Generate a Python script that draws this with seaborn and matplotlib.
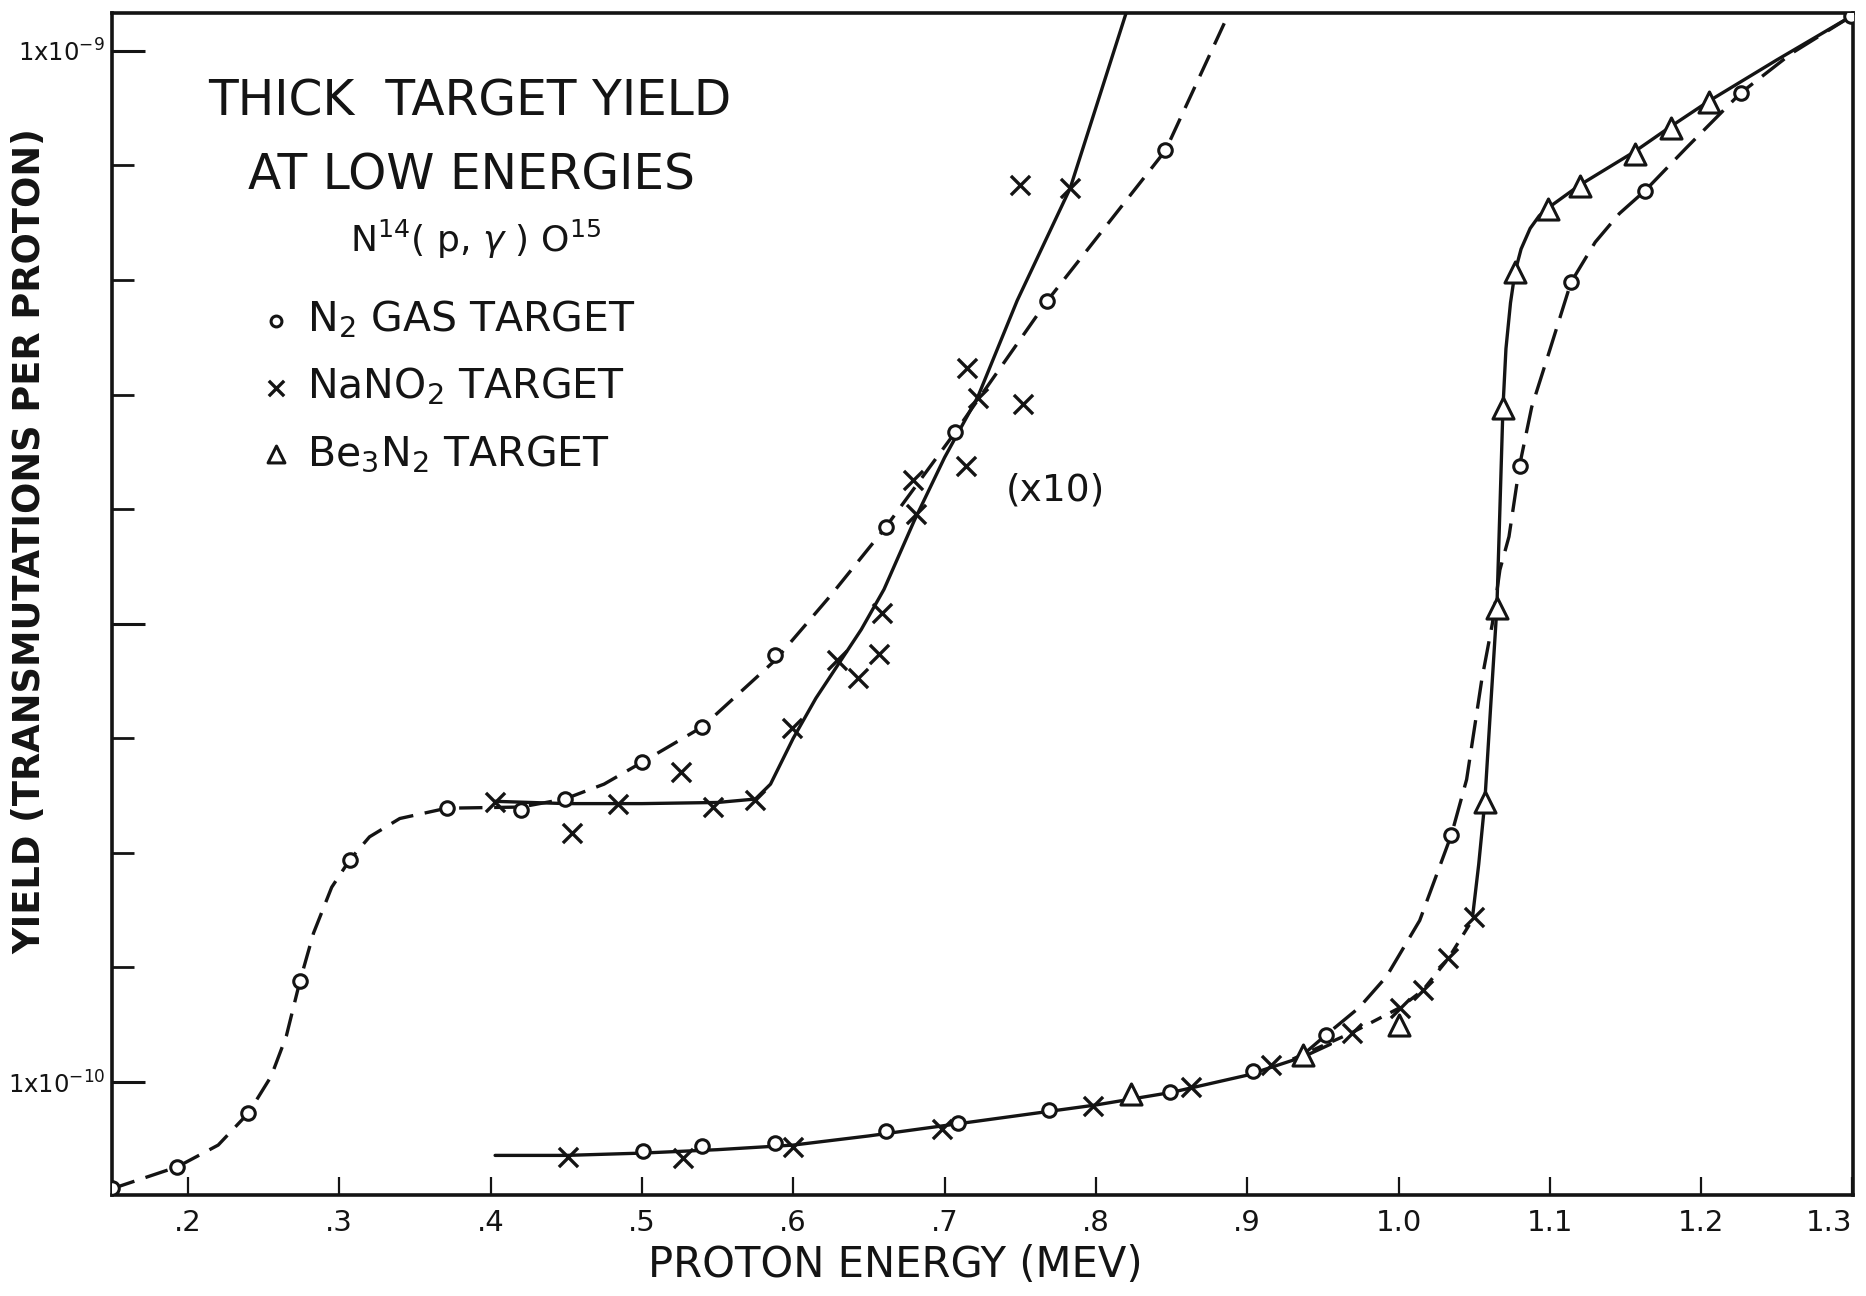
import matplotlib
matplotlib.use("Agg")
import matplotlib.pyplot as plt
from matplotlib.ticker import FixedLocator, FixedFormatter
import seaborn as sns

# ---------------- data (yield in units of 1e-10 transmutations / proton) -------------
# N2 gas target, low-energy branch (plotted x10)
n2_low_x = [0.150, 0.193, 0.240, 0.274, 0.307, 0.371, 0.420, 0.449, 0.500, 0.540,
            0.588, 0.661, 0.707, 0.768, 0.846]
n2_low_y = [0.075, 0.26, 0.73, 1.885, 2.94, 3.39, 3.37, 3.47, 3.79, 4.10,
            4.73, 5.84, 6.67, 7.82, 9.13]
# N2 gas target, high-energy branch
n2_high_x = [0.501, 0.540, 0.588, 0.661, 0.709, 0.769, 0.849, 0.904, 0.952, 1.035,
             1.080, 1.114, 1.163, 1.226, 1.299]
n2_high_y = [0.40, 0.44, 0.47, 0.57, 0.64, 0.76, 0.91, 1.10, 1.41, 3.16,
             6.38, 7.98, 8.78, 9.63, 10.30]
# NaNO2 target, low-energy branch (plotted x10)
nano2_low_x = [0.403, 0.454, 0.484, 0.526, 0.547, 0.575, 0.599, 0.629, 0.643, 0.657,
               0.659, 0.679, 0.681, 0.714, 0.715, 0.722, 0.752, 0.750, 0.783]
nano2_low_y = [3.44, 3.17, 3.43, 3.71, 3.40, 3.46, 4.09, 4.68, 4.53, 4.74,
               5.09, 6.25, 5.96, 6.38, 7.23, 6.97, 6.92, 8.83, 8.80]
# NaNO2 target, high-energy branch
nano2_high_x = [0.451, 0.527, 0.600, 0.698, 0.798, 0.863, 0.916, 0.969, 1.001, 1.016,
                1.033, 1.050]
nano2_high_y = [0.35, 0.34, 0.43, 0.59, 0.79, 0.96, 1.15, 1.43, 1.65, 1.80,
                2.08, 2.44]
# Be3N2 target
be3n2_x = [0.823, 0.937, 1.000, 1.057, 1.065, 1.069, 1.077, 1.099, 1.120, 1.156,
           1.180, 1.205]
be3n2_y = [0.90, 1.24, 1.50, 3.44, 5.14, 6.88, 8.07, 8.62, 8.82, 9.10,
           9.33, 9.55]

# hand-drawn curves
curve_n2_low_x = [0.150, 0.193, 0.220, 0.240, 0.255, 0.265, 0.274, 0.283, 0.295, 0.307,
                  0.320, 0.340, 0.371, 0.420, 0.449, 0.475, 0.500, 0.540, 0.588, 0.625,
                  0.661, 0.707, 0.768, 0.846, 0.888]
curve_n2_low_y = [0.07, 0.26, 0.45, 0.73, 1.05, 1.40, 1.88, 2.30, 2.70, 2.94,
                  3.14, 3.30, 3.39, 3.40, 3.47, 3.60, 3.79, 4.10, 4.68, 5.25,
                  5.84, 6.67, 7.82, 9.13, 10.33]
curve_nano2_low_x = [0.403, 0.450, 0.500, 0.550, 0.575, 0.585, 0.600, 0.615, 0.630, 0.645,
                     0.660, 0.680, 0.700, 0.722, 0.748, 0.783, 0.820]
curve_nano2_low_y = [3.45, 3.43, 3.43, 3.44, 3.47, 3.60, 4.00, 4.35, 4.65, 4.95,
                     5.30, 5.90, 6.45, 6.98, 7.82, 8.80, 10.33]
curve_low_common_x = [0.403, 0.450, 0.500, 0.550, 0.600, 0.650, 0.700, 0.750, 0.800, 0.850,
                      0.900, 0.937, 0.955]
curve_low_common_y = [0.36, 0.36, 0.38, 0.41, 0.45, 0.53, 0.62, 0.71, 0.80, 0.91,
                      1.06, 1.22, 1.33]
curve_n2_high_x = [0.937, 0.952, 0.974, 0.992, 1.014, 1.035, 1.045, 1.051, 1.055, 1.062,
                   1.067, 1.073, 1.080, 1.088, 1.100, 1.114, 1.130, 1.146, 1.163, 1.190,
                   1.226, 1.260, 1.299]
curve_n2_high_y = [1.24, 1.41, 1.65, 1.92, 2.41, 3.16, 3.64, 4.16, 4.51, 5.00,
                   5.47, 5.76, 6.38, 6.89, 7.39, 7.98, 8.33, 8.58, 8.78, 9.15,
                   9.63, 9.98, 10.30]
curve_nano2_high_x = [0.930, 0.969, 1.001, 1.016, 1.033, 1.050]
curve_nano2_high_y = [1.20, 1.43, 1.65, 1.80, 2.08, 2.44]
curve_be_x = [1.049, 1.053, 1.057, 1.061, 1.065, 1.067, 1.069, 1.071, 1.074, 1.077,
              1.081, 1.087, 1.093, 1.099, 1.120, 1.156, 1.180, 1.205, 1.250, 1.299]
curve_be_y = [2.45, 2.90, 3.44, 4.30, 5.14, 6.00, 6.88, 7.40, 7.80, 8.07,
              8.27, 8.45, 8.56, 8.63, 8.83, 9.12, 9.34, 9.56, 9.92, 10.30]

x_ticks = [0.2, 0.3, 0.4, 0.5, 0.6, 0.7, 0.8, 0.9, 1.0, 1.1, 1.2, 1.3]
x_tick_labels = [".2", ".3", ".4", ".5", ".6", ".7", ".8", ".9", "1.0", "1.1", "1.2", "1.3"]
y_major = [1, 5, 10]
y_major_labels = [r"1x10$^{-10}$", "", r"1x10$^{-9}$"]
y_minor = [2, 3, 4, 6, 7, 8, 9]

# ---------------- style ----------------
sns.set_theme(style="white")
plt.rcParams['font.family'] = ['DejaVu Sans']
plt.rcParams['mathtext.fontset'] = 'dejavusans'

INK = '#141414'
LW = 2.4

fig = plt.figure(figsize=(18.66, 12.96), dpi=100)
ax = fig.add_axes([0.0600, 0.0779, 0.9330, 0.9121])


def curve(xs, ys, ls):
    sns.lineplot(x=xs, y=ys, ax=ax, color=INK, linewidth=LW, linestyle=ls,
                 estimator=None, sort=False, zorder=2)


curve(curve_n2_low_x, curve_n2_low_y, (0, (7, 3.5)))
curve(curve_nano2_low_x, curve_nano2_low_y, '-')
curve(curve_low_common_x, curve_low_common_y, '-')
curve(curve_n2_high_x, curve_n2_high_y, (0, (8.5, 3.5)))
curve(curve_nano2_high_x, curve_nano2_high_y, (0, (3.5, 3)))
curve(curve_be_x, curve_be_y, '-')

sns.scatterplot(x=n2_low_x + n2_high_x, y=n2_low_y + n2_high_y, ax=ax, marker='o',
                s=95, color='white', edgecolor=INK, linewidth=2.2, zorder=4,
                label="N$_2$ GAS TARGET")
sns.scatterplot(x=nano2_low_x + nano2_high_x, y=nano2_low_y + nano2_high_y, ax=ax,
                marker='x', s=190, color=INK, linewidth=2.4, zorder=4,
                label="NaNO$_2$ TARGET")
sns.scatterplot(x=be3n2_x, y=be3n2_y, ax=ax, marker='^', s=230, color='white',
                edgecolor=INK, linewidth=2.2, zorder=4, label="Be$_3$N$_2$ TARGET")

ax.set_xlim(0.1498, 1.3003)
ax.set_ylim(0.014, 10.33)

ax.xaxis.set_major_locator(FixedLocator(x_ticks))
ax.xaxis.set_major_formatter(FixedFormatter(x_tick_labels))
ax.yaxis.set_major_locator(FixedLocator(y_major))
ax.yaxis.set_major_formatter(FixedFormatter(y_major_labels))
ax.yaxis.set_minor_locator(FixedLocator(y_minor))

ax.tick_params(axis='x', which='major', direction='in', length=13, width=1.6,
               color=INK, labelsize=21, pad=10, labelcolor=INK, bottom=True, top=False)
ax.tick_params(axis='y', which='major', direction='in', length=24, width=2.2,
               color=INK, labelsize=17.5, pad=5, labelcolor=INK, left=True, right=False)
ax.tick_params(axis='y', which='minor', direction='in', length=16, width=2.0,
               color=INK, left=True, right=False)

# last x label sits just inside the right edge, as in the original
fig.canvas.draw()
ax.get_xticklabels()[-1].set_horizontalalignment('right')

for sp in ax.spines.values():
    sp.set_color(INK)
    sp.set_linewidth(2.6)
ax.grid(False)

ax.set_xlabel("PROTON ENERGY (MEV)", fontsize=30, color=INK, va='center')
ax.xaxis.set_label_coords(0.4497, -0.0592)
ax.set_ylabel("YIELD (TRANSMUTATIONS PER PROTON)", fontsize=26.5, fontweight='bold',
              color=INK, va='center')
ax.yaxis.set_label_coords(-0.0471, 0.553)

W, H = 1866.0, 1296.0
fig.text(470 / W, 1 - 102 / H, "THICK  TARGET YIELD", fontsize=35, color=INK,
         ha='center', va='center')
fig.text(472 / W, 1 - 175 / H, "AT LOW ENERGIES", fontsize=35, color=INK,
         ha='center', va='center')
fig.text(476 / W, 1 - 239 / H, r"N$^{14}$( p, $\gamma$ ) O$^{15}$", fontsize=26,
         color=INK, ha='center', va='center')
fig.text(1055 / W, 1 - 490 / H, "(x10)", fontsize=27, color=INK,
         ha='center', va='center')

leg = ax.legend(loc='upper left', bbox_to_anchor=(258 / W, 1 - 299 / H),
                bbox_transform=fig.transFigure, frameon=False, fontsize=29.5,
                markerscale=0.8, handlelength=0.9, handletextpad=0.3,
                labelspacing=0.62, borderpad=0, borderaxespad=0)
for t in leg.get_texts():
    t.set_color(INK)

fig.savefig("out.png", dpi=100, facecolor='white')
